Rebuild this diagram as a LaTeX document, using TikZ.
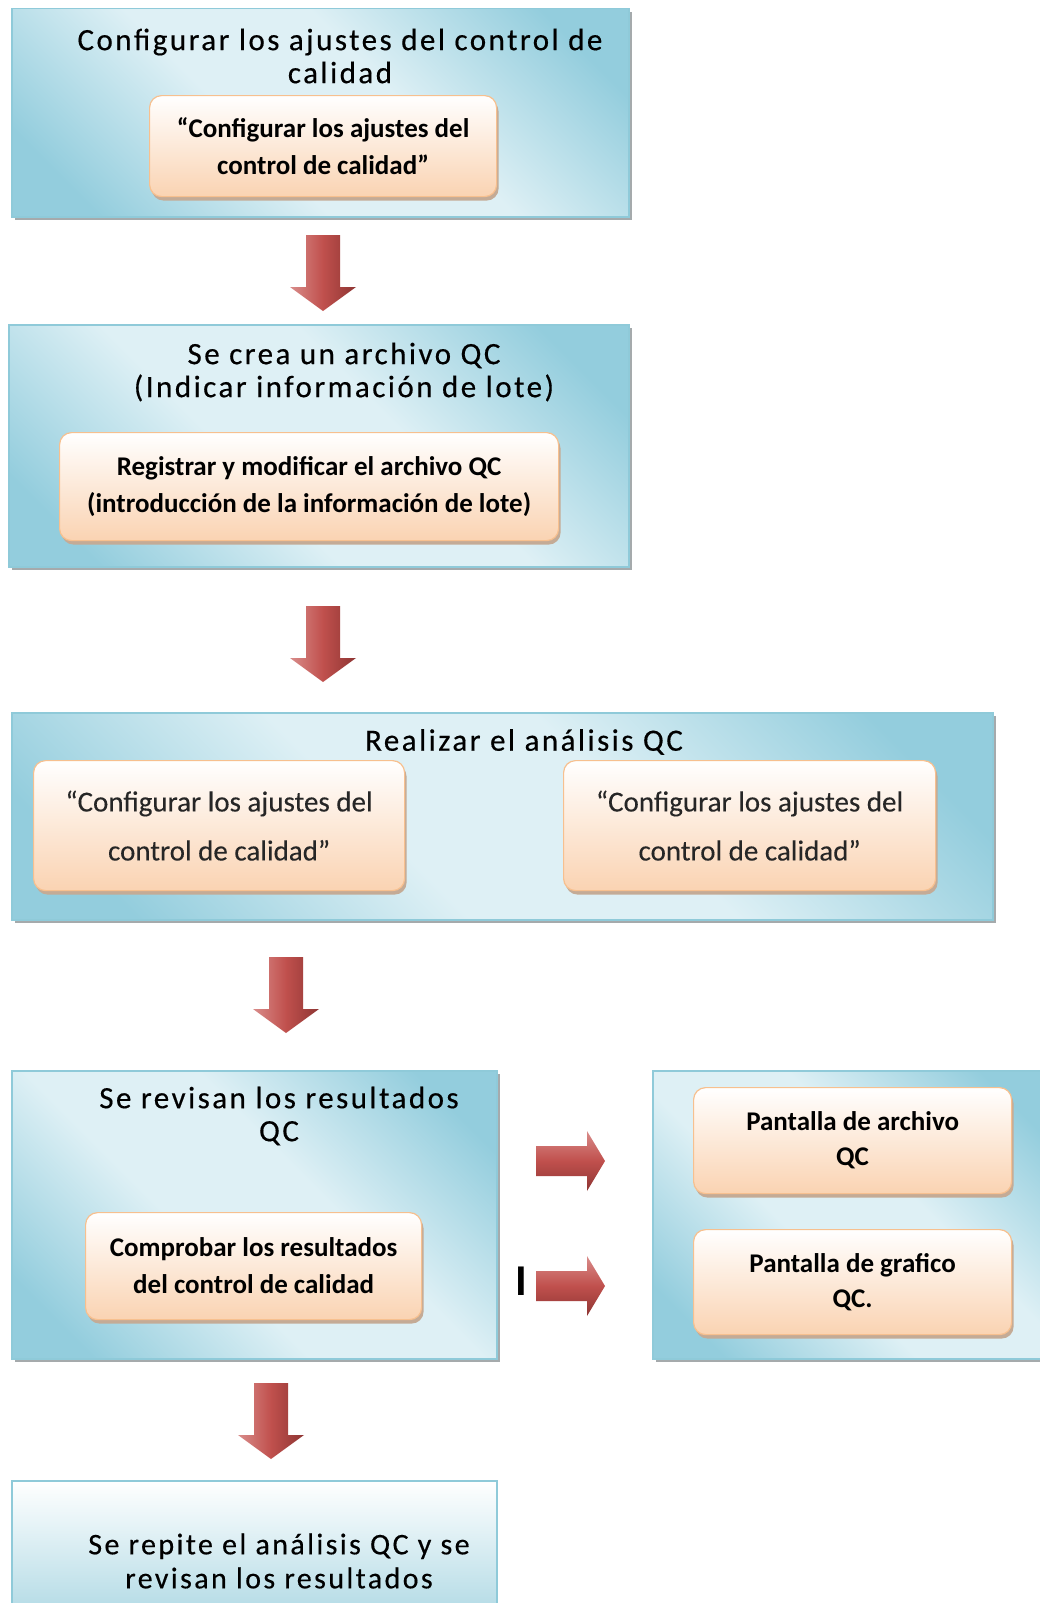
\documentclass[tikz,border=0pt]{standalone}
\usepackage{fontspec}
\setmainfont{Carlito}
\newfontfamily\ttl[LetterSpace=8,FakeBold=0.4]{Carlito}
\newfontfamily\regfont[FakeBold=0.2]{Carlito}
\usetikzlibrary{shadows}
\definecolor{bdark}{HTML}{93CDDD}
\definecolor{blight}{HTML}{DEF0F5}
\definecolor{bborder}{HTML}{8FCAD9}
\definecolor{shgray}{HTML}{A5AAAC}
\definecolor{pbot}{HTML}{FAD3B2}
\definecolor{pmid}{HTML}{FDE9DA}
\definecolor{pborder}{HTML}{F7C08F}
\definecolor{pshadow}{HTML}{C4AB96}
\definecolor{rlight}{HTML}{D98C8A}
\definecolor{rmid}{HTML}{C0504D}
\definecolor{rdark}{HTML}{8E3533}
\definecolor{b6bot}{HTML}{A9D6E2}
\pgfdeclarehorizontalshading{bluediag}{100bp}{color(0bp)=(bdark); color(22bp)=(bdark); color(42bp)=(blight); color(58bp)=(blight); color(78bp)=(bdark); color(100bp)=(bdark)}
\tikzset{
  bluebox/.style={draw=bborder, line width=1.5pt, shading=bluediag, shading angle=45, inner sep=0pt, anchor=north west,
    drop shadow={shadow xshift=3pt, shadow yshift=-3pt, fill=shgray, opacity=1}},
  lastbox/.style={draw=bborder, line width=1.5pt, top color=white, bottom color=b6bot, inner sep=0pt, anchor=north west},
  peachbox/.style={draw=pborder, line width=1.2pt, rounded corners=12pt, top color=white, middle color=pmid, bottom color=pbot,
    inner sep=0pt, anchor=north west, align=center,
    drop shadow={shadow xshift=2pt, shadow yshift=-4pt, fill=pshadow, opacity=1}},
  ttltext/.style={align=center, inner sep=0pt, font=\ttl\fontsize{31}{33}\selectfont},
  boldin/.style={font=\bfseries\fontsize{27}{37}\selectfont},
  regin/.style={font=\regfont\fontsize{29}{49}\selectfont, text=black!85},
  darr/.pic={\path[left color=rlight, right color=rdark, middle color=rmid]
    (-17,0) -- (17,0) -- (17,52) -- (33,52) -- (0,76) -- (-33,52) -- (-17,52) -- cycle;},
  rarr/.pic={\path[top color=rlight, bottom color=rdark, middle color=rmid]
    (0,-15) -- (51,-15) -- (51,-30) -- (69,0) -- (51,30) -- (51,15) -- (0,15) -- cycle;}
}
\begin{document}
\begin{tikzpicture}[x=1pt,y=-1pt]
\useasboundingbox[fill=white] (0,0) rectangle (1040,1603);
% box 1
\node[bluebox, minimum width=617pt, minimum height=208pt] (b1) at (11,8) {};
\node[ttltext] (t1) at (340,56) {Configurar los ajustes del control de\\calidad};
\node[peachbox, boldin, minimum width=347pt, minimum height=101pt] (i1) at (149,95) {“Configurar los ajustes del\\control de calidad”};
\pic (a1) at (323,235) {darr};
% box 2
\node[bluebox, minimum width=620pt, minimum height=242pt] (b2) at (8,324) {};
\node[ttltext] (t2) at (344,372) {Se crea un archivo QC\\(Indicar información de lote)};
\node[peachbox, boldin, minimum width=499pt, minimum height=108pt] (i2) at (59,432) {Registrar y modificar el archivo QC\\(introducción de la información de lote)};
\pic (a2) at (323,606) {darr};
% box 3
\node[bluebox, minimum width=981pt, minimum height=207pt] (b3) at (11,712) {};
\node[ttltext] (t3) at (524,742) {Realizar el análisis QC};
\node[peachbox, regin, minimum width=371pt, minimum height=130pt] (i3a) at (33,760) {“Configurar los ajustes del\\control de calidad”};
\node[peachbox, regin, minimum width=372pt, minimum height=130pt] (i3b) at (563,760) {“Configurar los ajustes del\\control de calidad”};
\pic (a3) at (286,957) {darr};
% box 4
\node[bluebox, minimum width=485pt, minimum height=288pt] (b4) at (11,1070) {};
\node[ttltext] (t4) at (279,1116) {Se revisan los resultados\\QC};
\node[peachbox, boldin, minimum width=336pt, minimum height=107pt] (i4) at (85,1212) {Comprobar los resultados\\del control de calidad};
% box 5
\node[bluebox, minimum width=400pt, minimum height=288pt] (b5) at (652,1070) {};
\node[peachbox, boldin, font=\bfseries\fontsize{27}{35}\selectfont, minimum width=318pt, minimum height=106pt] (i5a) at (693,1087) {Pantalla de archivo\\QC};
\node[peachbox, boldin, font=\bfseries\fontsize{27}{35}\selectfont, minimum width=318pt, minimum height=105pt] (i5b) at (693,1229) {Pantalla de grafico\\QC.};
\pic (r1) at (536,1161) {rarr};
\pic (r2) at (536,1286) {rarr};
\node[inner sep=0pt, font=\bfseries\fontsize{44}{44}\selectfont] (bar) at (521,1281) {I};
\pic (a4) at (271,1383) {darr};
% box 6
\node[lastbox, minimum width=485pt, minimum height=150pt] (b6) at (11,1480) {};
\node[ttltext, font=\ttl\fontsize{30}{34}\selectfont] (t6) at (279,1561) {Se repite el análisis QC y se\\revisan los resultados};
\end{tikzpicture}
\end{document}
